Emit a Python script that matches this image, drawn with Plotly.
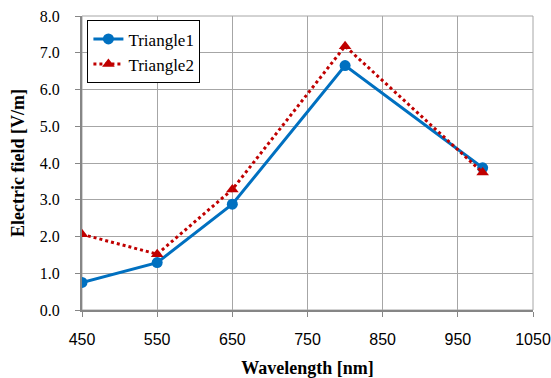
import plotly.graph_objects as go

wavelength = [450, 550, 650, 800, 983]
triangle1 = [0.75, 1.29, 2.88, 6.65, 3.87]
triangle2 = [2.06, 1.52, 3.28, 7.18, 3.74]
x_ticks = [450, 550, 650, 750, 850, 950, 1050]
y_ticks = [0, 1, 2, 3, 4, 5, 6, 7, 8]

SERIF = "Liberation Serif, Times New Roman, serif"
SANS = "Liberation Sans, Arial, sans-serif"

fig = go.Figure()
fig.add_trace(go.Scatter(
    x=wavelength, y=triangle1, name="Triangle1", mode="lines+markers",
    line=dict(color="#0070C0", width=3),
    marker=dict(symbol="circle", size=11, color="#0070C0"),
))
fig.add_trace(go.Scatter(
    x=wavelength, y=triangle2, name="Triangle2", mode="lines+markers",
    line=dict(color="#C00000", width=3, dash="dot"),
    marker=dict(symbol="triangle-up", size=11, color="#C00000"),
))

axis_common = dict(
    showgrid=True, gridcolor="#A6A6A6", gridwidth=1,
    showline=True, linecolor="#868686", linewidth=2,
    ticks="outside", ticklen=5, tickcolor="#868686", zeroline=False,
    automargin=False,
)
fig.update_layout(
    width=551, height=378,
    margin=dict(l=82, r=18, t=16, b=68),
    paper_bgcolor="white", plot_bgcolor="white",
    showlegend=True,
    legend=dict(
        x=0.012, y=0.985, xanchor="left", yanchor="top",
        bgcolor="white", bordercolor="black", borderwidth=1,
        font=dict(family=SERIF, size=17, color="black"),
        entrywidth=84, entrywidthmode="pixels",
        tracegroupgap=4,
    ),
    xaxis=dict(
        range=[450, 1050], tickvals=x_ticks,
        ticktext=[str(v) for v in x_ticks],
        tickfont=dict(family=SANS, size=16, color="black"),
        ticklabelstandoff=9,
        title=dict(text="<b>Wavelength [nm]</b>", standoff=14,
                   font=dict(family=SERIF, size=18, color="black")),
        **axis_common,
    ),
    yaxis=dict(
        range=[0, 8], tickvals=y_ticks,
        ticktext=[f"{v:.1f}" for v in y_ticks],
        tickfont=dict(family=SERIF, size=16, color="black"),
        ticklabelstandoff=12,
        title=dict(text="<b>Electric field [V/m]</b>", standoff=10,
                   font=dict(family=SERIF, size=18, color="black")),
        **axis_common,
    ),
)
fig.add_shape(type="rect", xref="paper", yref="paper", x0=0, y0=0, x1=1, y1=1,
              line=dict(color="#A6A6A6", width=1), layer="below")

fig.write_html("out.html")
